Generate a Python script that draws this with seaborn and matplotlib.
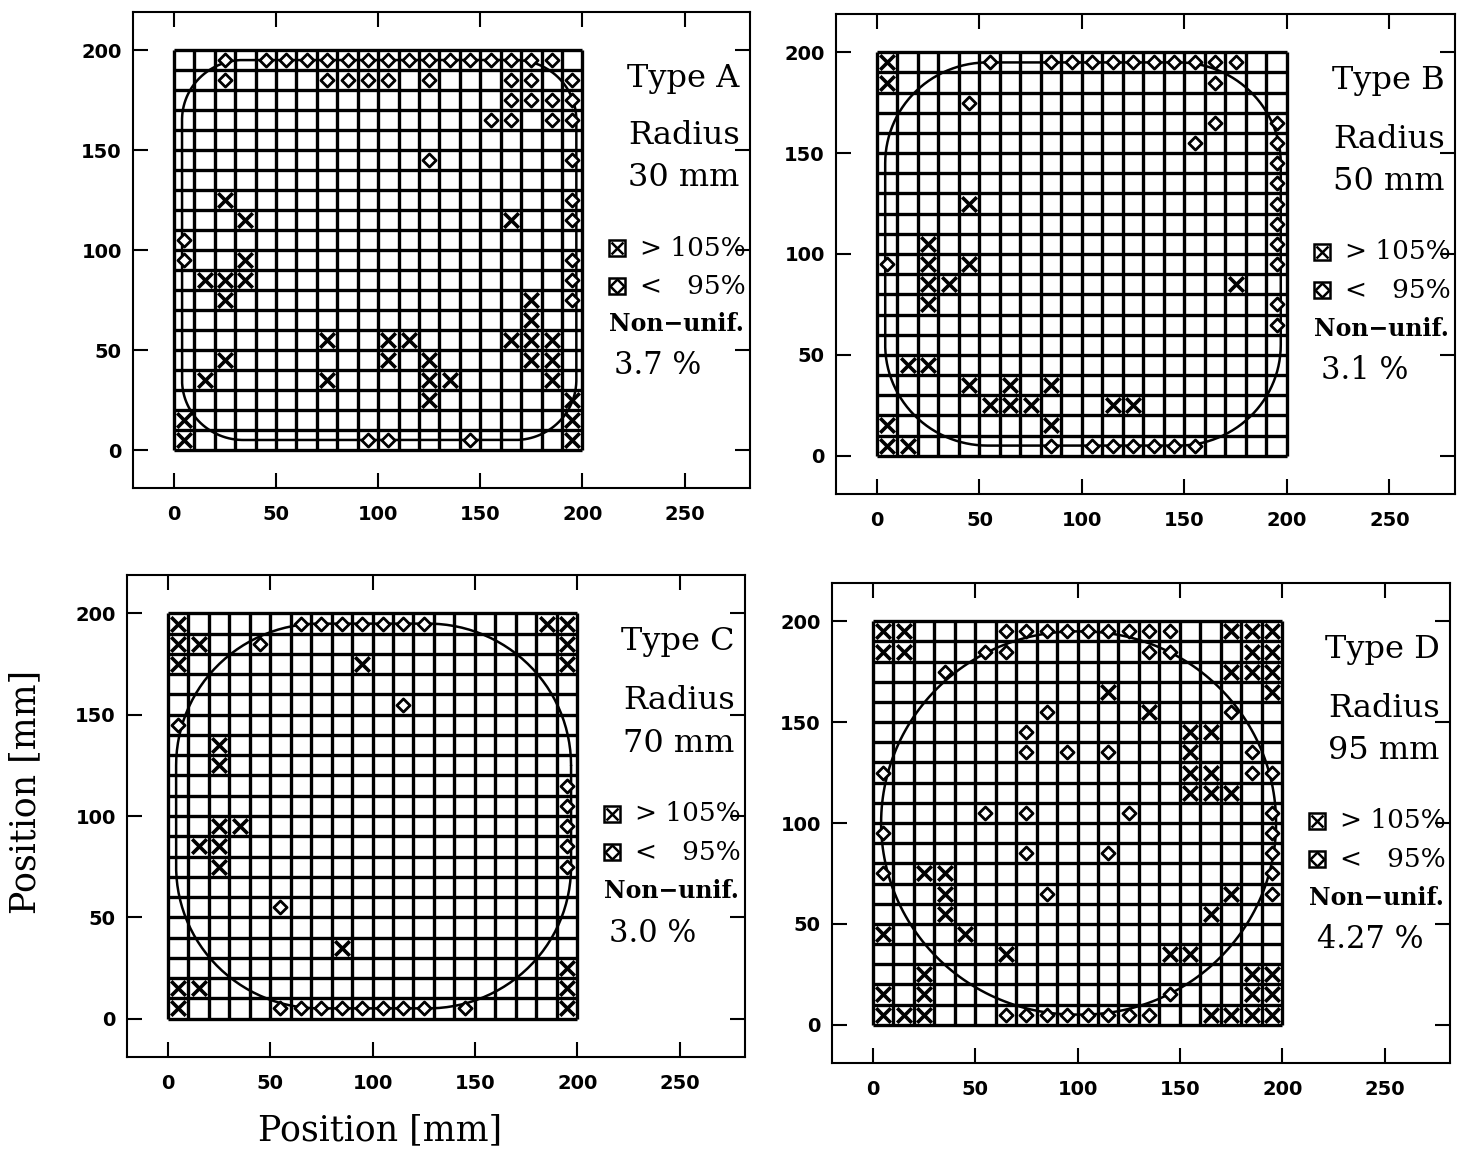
import numpy as np
import pandas as pd
import matplotlib
matplotlib.use("Agg")
import matplotlib.pyplot as plt
import seaborn as sns

# ---------------------------------------------------------
# Cell centres (mm) flagged in each 20x20 map
# high = response > 105 %, low = response < 95 %
# ---------------------------------------------------------
a_high = [(25, 125), (35, 115), (165, 115), (35, 95), (15, 85), (25, 85), (35, 85),
          (25, 75), (175, 75), (175, 65),
          (75, 55), (105, 55), (115, 55), (165, 55), (175, 55), (185, 55),
          (25, 45), (105, 45), (125, 45), (175, 45), (185, 45),
          (15, 35), (75, 35), (125, 35), (135, 35), (185, 35),
          (125, 25), (195, 25), (5, 15), (195, 15), (5, 5), (195, 5)]
a_low = [(25, 195), (45, 195), (55, 195), (65, 195), (75, 195), (85, 195), (95, 195),
         (105, 195), (115, 195), (125, 195), (135, 195), (145, 195), (155, 195),
         (165, 195), (175, 195), (185, 195),
         (25, 185), (75, 185), (85, 185), (95, 185), (105, 185), (125, 185),
         (165, 185), (175, 185), (195, 185),
         (165, 175), (175, 175), (185, 175), (195, 175),
         (155, 165), (165, 165), (185, 165), (195, 165),
         (125, 145), (195, 145), (195, 125), (195, 115), (5, 105), (5, 95), (195, 95),
         (195, 85), (195, 75), (95, 5), (105, 5), (145, 5)]

b_high = [(5, 195), (5, 185), (45, 125), (25, 105), (25, 95), (45, 95), (25, 85),
          (35, 85), (175, 85), (25, 75), (15, 45), (25, 45), (45, 35), (65, 35),
          (85, 35), (55, 25), (65, 25), (75, 25), (115, 25), (125, 25), (5, 15),
          (85, 15), (5, 5), (15, 5)]
b_low = [(55, 195), (85, 195), (95, 195), (105, 195), (115, 195), (125, 195),
         (135, 195), (145, 195), (155, 195), (165, 195), (175, 195),
         (165, 185), (45, 175), (165, 165), (195, 165), (155, 155), (195, 155),
         (195, 145), (195, 135), (195, 125), (195, 115), (195, 105), (5, 95),
         (195, 95), (195, 75), (195, 65),
         (85, 5), (105, 5), (115, 5), (125, 5), (135, 5), (145, 5), (155, 5)]

c_high = [(5, 195), (185, 195), (195, 195), (5, 185), (15, 185), (195, 185),
          (5, 175), (95, 175), (195, 175), (25, 135), (25, 125), (25, 95), (35, 95),
          (15, 85), (25, 85), (25, 75), (85, 35), (195, 25), (5, 15), (15, 15),
          (195, 15), (5, 5), (195, 5)]
c_low = [(65, 195), (75, 195), (85, 195), (95, 195), (105, 195), (115, 195),
         (125, 195), (45, 185), (115, 155), (5, 145), (195, 115), (195, 105),
         (195, 95), (195, 85), (195, 75), (55, 55),
         (55, 5), (65, 5), (75, 5), (85, 5), (95, 5), (105, 5), (115, 5), (125, 5),
         (145, 5)]

d_high = [(5, 195), (15, 195), (175, 195), (185, 195), (195, 195),
          (5, 185), (15, 185), (185, 185), (195, 185),
          (175, 175), (185, 175), (195, 175), (115, 165), (195, 165), (135, 155),
          (155, 145), (165, 145), (155, 135), (155, 125), (165, 125),
          (155, 115), (165, 115), (175, 115), (25, 75), (35, 75), (35, 65),
          (175, 65), (35, 55), (165, 55), (5, 45), (45, 45), (65, 35), (145, 35),
          (155, 35), (25, 25), (185, 25), (195, 25), (5, 15), (25, 15), (185, 15),
          (195, 15), (5, 5), (15, 5), (25, 5), (165, 5), (175, 5), (185, 5), (195, 5)]
d_low = [(65, 195), (75, 195), (85, 195), (95, 195), (105, 195), (115, 195),
         (125, 195), (135, 195), (145, 195), (55, 185), (65, 185), (135, 185),
         (145, 185), (35, 175), (85, 155), (175, 155), (75, 145), (75, 135),
         (95, 135), (115, 135), (185, 135), (5, 125), (185, 125), (195, 125),
         (55, 105), (75, 105), (125, 105), (195, 105), (5, 95), (195, 95),
         (75, 85), (115, 85), (195, 85), (5, 75), (195, 75), (85, 65), (195, 65),
         (145, 15), (65, 5), (75, 5), (85, 5), (95, 5), (105, 5), (115, 5),
         (125, 5), (135, 5)]

types = ["A", "B", "C", "D"]
radii = [30, 50, 70, 95]
non_unif = ["3.7", "3.1", "3.0", "4.27"]
highs = [a_high, b_high, c_high, d_high]
lows = [a_low, b_low, c_low, d_low]

# panel rectangles in figure pixels: left, right, top, bottom
W, H = 1467, 1151
panel_px = [(133, 750, 12, 488), (836, 1455, 14, 494),
            (127, 745, 575, 1057), (832, 1450, 583, 1063)]
value_x = [237, 238, 237, 243]


def rounded_box(x0, x1, y0, y1, r):
    r = min(r, (x1 - x0) / 2, (y1 - y0) / 2)
    t = np.linspace(0, np.pi / 2, 60)
    pts = []
    for cx, cy, a0 in [(x1 - r, y1 - r, 0), (x0 + r, y1 - r, np.pi / 2),
                       (x0 + r, y0 + r, np.pi), (x1 - r, y0 + r, 1.5 * np.pi)]:
        pts.append(np.column_stack([cx + r * np.cos(t + a0), cy + r * np.sin(t + a0)]))
    pts = np.vstack(pts + [pts[0][:1]])
    return pts[:, 0], pts[:, 1]


sns.set_theme(style="white")
plt.rcParams["font.family"] = ["DejaVu Sans"]
plt.rcParams.update({"text.color": "black", "xtick.color": "black",
                     "ytick.color": "black", "axes.labelcolor": "black"})

fig = plt.figure(figsize=(W / 100, H / 100), dpi=100)
serif = "DejaVu Serif"
edges = np.arange(0, 201, 10)

for i in range(4):
    l, r, t, b = panel_px[i]
    ax = fig.add_axes([l / W, 1 - b / H, (r - l) / W, (b - t) / H])

    # measurement grid
    ax.vlines(edges, 0, 200, color="black", lw=2.4, zorder=1)
    ax.hlines(edges, 0, 200, color="black", lw=2.4, zorder=1)

    # nominal sensitive area contour
    cx, cy = rounded_box(4, 197, 5, 195, radii[i])
    ax.plot(cx, cy, color="black", lw=1.8, zorder=2)

    df_hi = pd.DataFrame(highs[i], columns=["x", "y"])
    df_lo = pd.DataFrame(lows[i], columns=["x", "y"])
    sns.scatterplot(data=df_hi, x="x", y="y", marker="x", s=110, color="black",
                    linewidth=2.6, ax=ax, zorder=4)
    sns.scatterplot(data=df_lo, x="x", y="y", marker="D", s=45, facecolor="white",
                    edgecolor="black", linewidth=2.0, ax=ax, zorder=4)

    ax.set_xlim(-20, 282)
    ax.set_ylim(-19, 219)
    ax.set_xticks([0, 50, 100, 150, 200, 250])
    ax.set_yticks([0, 50, 100, 150, 200])
    ax.set_xlabel("")
    ax.set_ylabel("")
    ax.tick_params(direction="in", length=11, width=1.5, color="black",
                   labelcolor="black", top=True, right=True, bottom=True,
                   left=True, labelsize=14)
    ax.tick_params(axis="x", pad=12)
    ax.tick_params(axis="y", pad=8)
    for lab in ax.get_xticklabels() + ax.get_yticklabels():
        lab.set_fontweight("bold")
    for sp in ax.spines.values():
        sp.set_color("black")
        sp.set_linewidth(1.5)

    # annotation block
    ax.text(277, 186, f"Type {types[i]}", ha="right", va="center", fontsize=23, family=serif)
    ax.text(277, 157, "Radius", ha="right", va="center", fontsize=23, family=serif)
    ax.text(277, 136, f"{radii[i]} mm", ha="right", va="center", fontsize=23, family=serif)
    ax.plot([217], [101], marker="s", ms=12, mfc="white", mec="black", mew=1.8)
    ax.plot([217], [101], marker="x", ms=9, mec="black", mew=1.8)
    ax.plot([217], [82], marker="s", ms=12, mfc="white", mec="black", mew=1.8)
    ax.plot([217], [82], marker="D", ms=7, mfc="white", mec="black", mew=1.8)
    ax.text(280, 101, "> 105%", ha="right", va="center", fontsize=19, family=serif)
    ax.text(280, 82, "<   95%", ha="right", va="center", fontsize=19, family=serif)
    ax.text(279, 63, "Non\u2212unif.", ha="right", va="center", fontsize=17,
            family=serif, fontweight="bold")
    ax.text(value_x[i], 42, f"{non_unif[i]} %", ha="center", va="center",
            fontsize=22, family=serif)

fig.text(380 / W, 1 - 1130 / H, "Position [mm]", ha="center", va="center",
         fontsize=25, family=serif)
fig.text(25 / W, 1 - 792 / H, "Position [mm]", ha="center", va="center",
         rotation=90, fontsize=25, family=serif)

fig.savefig("out.png", dpi=100, facecolor="white")
